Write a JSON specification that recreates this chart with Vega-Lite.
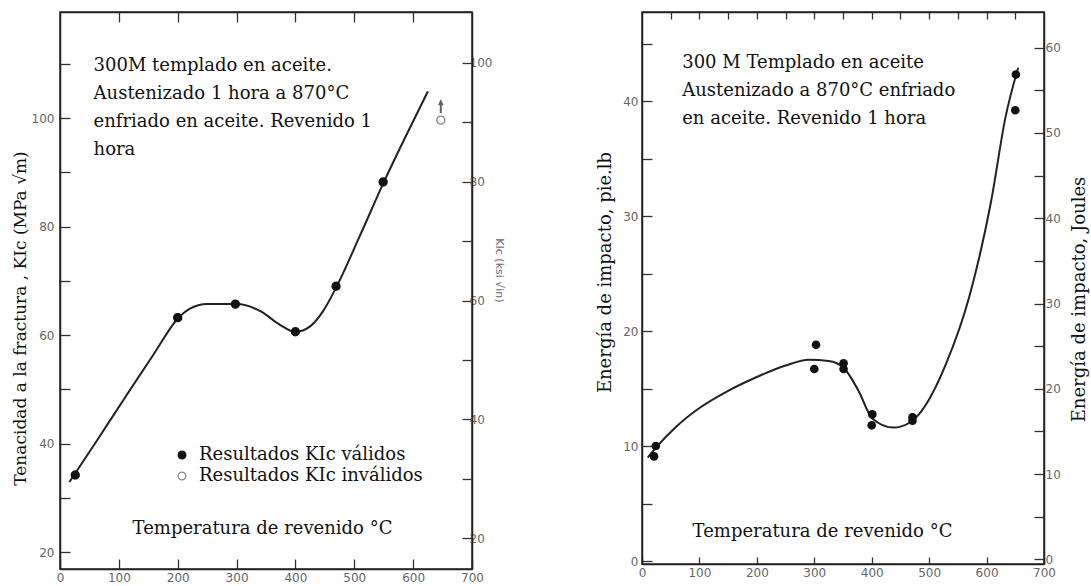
{
  "$schema": "https://vega.github.io/schema/vega-lite/v6.json",
  "background": "white",
  "padding": {"left": 10, "top": 10, "right": 0, "bottom": 0},
  "spacing": 170,
  "bounds": "flush",
  "config": {
    "view": {"stroke": "#222", "strokeWidth": 1.5},
    "axis": {
      "grid": false, "domainColor": "#222", "domainWidth": 1.5,
      "tickColor": "#333", "tickWidth": 1.3,
      "labelFont": "DejaVu Sans", "labelFontSize": 12, "labelColor": "#666",
      "titleFont": "DejaVu Serif", "titleFontSize": 18, "titleFontWeight": "normal", "titleColor": "#111",
      "labelFlush": false, "labelOverlap": false
    }
  },
  "datasets": {
    "kic_puntos": [
      {"temp": 26, "kic": 34.2, "resultado": "Resultados KIc válidos"},
      {"temp": 200, "kic": 63.2, "resultado": "Resultados KIc válidos"},
      {"temp": 298, "kic": 65.7, "resultado": "Resultados KIc válidos"},
      {"temp": 400, "kic": 60.6, "resultado": "Resultados KIc válidos"},
      {"temp": 469, "kic": 69.0, "resultado": "Resultados KIc válidos"},
      {"temp": 549, "kic": 88.2, "resultado": "Resultados KIc válidos"},
      {"temp": 647, "kic": 99.6, "resultado": "Resultados KIc inválidos"}
    ],
    "flecha": [{"temp": 647, "kic": 102.2}],
    "kic_curva": [
      {"temp": 16, "kic": 32.9}, {"temp": 60, "kic": 40.1}, {"temp": 110, "kic": 48.4},
      {"temp": 160, "kic": 56.6}, {"temp": 200, "kic": 63.0}, {"temp": 220, "kic": 64.8},
      {"temp": 250, "kic": 65.7}, {"temp": 300, "kic": 65.7}, {"temp": 342, "kic": 64.3},
      {"temp": 372, "kic": 62.0}, {"temp": 400, "kic": 60.6}, {"temp": 425, "kic": 61.6},
      {"temp": 447, "kic": 64.4}, {"temp": 468, "kic": 68.5}, {"temp": 510, "kic": 78.4},
      {"temp": 549, "kic": 87.9}, {"temp": 590, "kic": 97.2}, {"temp": 625, "kic": 104.9}
    ],
    "nota_izq": [{"temp": 57, "kic": 111.2, "texto": "300M templado en aceite.\nAustenizado 1 hora a 870°C\nenfriado en aceite. Revenido 1\nhora"}],
    "impacto_puntos": [
      {"temp": 24, "energia": 10.0}, {"temp": 21, "energia": 9.1},
      {"temp": 303, "energia": 18.8}, {"temp": 300, "energia": 16.7},
      {"temp": 351, "energia": 17.2}, {"temp": 351, "energia": 16.7},
      {"temp": 401, "energia": 12.75}, {"temp": 400, "energia": 11.8},
      {"temp": 471, "energia": 12.5}, {"temp": 471, "energia": 12.2},
      {"temp": 651, "energia": 42.3}, {"temp": 650, "energia": 39.2}
    ],
    "impacto_curva": [
      {"temp": 10, "energia": 9.0}, {"temp": 25, "energia": 9.9}, {"temp": 60, "energia": 11.7},
      {"temp": 100, "energia": 13.3}, {"temp": 150, "energia": 14.8}, {"temp": 200, "energia": 16.0},
      {"temp": 250, "energia": 17.0}, {"temp": 291, "energia": 17.5}, {"temp": 325, "energia": 17.4},
      {"temp": 351, "energia": 16.8}, {"temp": 377, "energia": 14.8}, {"temp": 401, "energia": 12.4},
      {"temp": 438, "energia": 11.6}, {"temp": 465, "energia": 12.0}, {"temp": 486, "energia": 13.0},
      {"temp": 529, "energia": 17.1}, {"temp": 570, "energia": 23.0}, {"temp": 608, "energia": 31.3},
      {"temp": 633, "energia": 38.6}, {"temp": 655, "energia": 42.9}
    ],
    "nota_der": [{"temp": 70, "energia": 44.1, "texto": "300 M Templado en aceite\nAustenizado a 870°C enfriado\nen aceite. Revenido 1 hora"}]
  },
  "hconcat": [
    {
      "width": 412, "height": 557,
      "layer": [
        {
          "layer": [
            {
              "data": {"name": "kic_curva"},
              "mark": {"type": "line", "interpolate": "monotone", "color": "#222", "strokeWidth": 2},
              "encoding": {
                "x": {"field": "temp", "type": "quantitative", "scale": {"domain": [0, 700], "nice": false, "zero": false},
                  "axis": {"orient": "bottom", "values": [0, 100, 200, 300, 400, 500, 600, 700], "tickSize": -10, "labelPadding": 13,
                    "title": "Temperatura de revenido °C", "titleX": 202, "titleY": -50}},
                "y": {"field": "kic", "type": "quantitative", "scale": {"domain": [16.87, 119.54], "nice": false, "zero": false},
                  "axis": {"orient": "left", "values": [20, 30, 40, 50, 60, 70, 80, 90, 100, 110], "labelExpr": "datum.value % 20 === 0 ? datum.label : ''",
                    "tickSize": -10, "labelPadding": 16, "title": "Tenacidad a la fractura , KIc (MPa √m)", "titleFontSize": 17, "titlePadding": 2, "titleY": 306}}
              }
            },
            {
              "data": {"name": "kic_puntos"},
              "mark": {"type": "point", "shape": "circle", "size": 65, "strokeWidth": 1.3, "opacity": 1},
              "encoding": {
                "x": {"field": "temp", "type": "quantitative", "scale": {"domain": [0, 700], "nice": false, "zero": false}},
                "y": {"field": "kic", "type": "quantitative", "scale": {"domain": [16.87, 119.54], "nice": false, "zero": false}},
                "fill": {"field": "resultado", "type": "nominal",
                  "scale": {"domain": ["Resultados KIc válidos", "Resultados KIc inválidos"], "range": ["#111", "#ffffff"]},
                  "legend": {"orient": "none", "legendX": 113, "legendY": 434, "title": null, "labelFont": "DejaVu Serif", "labelFontSize": 18, "labelColor": "#111", "labelLimit": 0, "symbolSize": 60, "labelOffset": 8, "rowPadding": 3, "symbolStrokeWidth": 1.2}},
                "stroke": {"field": "resultado", "type": "nominal",
                  "scale": {"domain": ["Resultados KIc válidos", "Resultados KIc inválidos"], "range": ["#111", "#888"]},
                  "legend": {"orient": "none", "legendX": 113, "legendY": 434, "title": null, "labelFont": "DejaVu Serif", "labelFontSize": 18, "labelColor": "#111", "labelLimit": 0, "symbolSize": 60, "labelOffset": 8, "rowPadding": 3, "symbolStrokeWidth": 1.2}}
              }
            },
            {
              "data": {"name": "flecha"},
              "mark": {"type": "point", "shape": "arrow", "size": 200, "filled": true, "color": "#222"},
              "encoding": {
                "x": {"field": "temp", "type": "quantitative", "scale": {"domain": [0, 700], "nice": false, "zero": false}},
                "y": {"field": "kic", "type": "quantitative", "scale": {"domain": [16.87, 119.54], "nice": false, "zero": false}}
              }
            },
            {
              "data": {"name": "nota_izq"},
              "mark": {"type": "text", "align": "left", "baseline": "top", "lineBreak": "\n", "lineHeight": 28, "font": "DejaVu Serif", "fontSize": 18, "color": "#111"},
              "encoding": {
                "x": {"field": "temp", "type": "quantitative", "scale": {"domain": [0, 700], "nice": false, "zero": false}},
                "y": {"field": "kic", "type": "quantitative", "scale": {"domain": [16.87, 119.54], "nice": false, "zero": false}},
                "text": {"field": "texto"}
              }
            }
          ]
        },
        {
          "data": {"name": "kic_curva"},
          "mark": {"type": "point", "opacity": 0},
          "encoding": {
            "x": {"field": "temp", "type": "quantitative", "scale": {"domain": [0, 700], "nice": false, "zero": false},
              "axis": {"orient": "top", "values": [100, 200, 300, 400, 500, 600], "labels": false, "tickSize": -10, "title": null}},
            "y": {"field": "kic", "type": "quantitative", "scale": {"domain": [14.84, 108.53], "nice": false, "zero": false},
              "axis": {"orient": "right", "values": [20, 30, 40, 50, 60, 70, 80, 90, 100], "labelExpr": "datum.value % 20 === 0 ? datum.label : ''",
                "tickSize": -10, "labelPadding": 7, "title": "KIc (ksi √in)", "titleFont": "DejaVu Sans", "titleFontSize": 11, "titleColor": "#666", "titleAngle": 90, "titlePadding": 2, "titleY": 258}}
          }
        }
      ],
      "resolve": {"scale": {"y": "independent"}, "axis": {"x": "independent", "y": "independent"}}
    },
    {
      "width": 402, "height": 552,
      "layer": [
        {
          "layer": [
            {
              "data": {"name": "impacto_curva"},
              "mark": {"type": "line", "interpolate": "monotone", "color": "#222", "strokeWidth": 2},
              "encoding": {
                "x": {"field": "temp", "type": "quantitative", "scale": {"domain": [0, 700], "nice": false, "zero": false},
                  "axis": {"orient": "bottom", "values": [0, 50, 100, 150, 200, 250, 300, 350, 400, 450, 500, 550, 600, 650, 700],
                    "labelExpr": "datum.value % 100 === 0 ? datum.label : ''", "tickSize": -7, "labelPadding": 10,
                    "title": "Temperatura de revenido °C", "titleX": 180, "titleY": -42}},
                "y": {"field": "energia", "type": "quantitative", "scale": {"domain": [-0.26, 47.74], "nice": false, "zero": false},
                  "axis": {"orient": "left", "values": [0, 5, 10, 15, 20, 25, 30, 35, 40, 45], "labelExpr": "datum.value % 10 === 0 ? datum.label : ''",
                    "tickSize": -10, "labelPadding": 14, "title": "Energía de impacto, pie.lb", "titlePadding": 8, "titleY": 260}}
              }
            },
            {
              "data": {"name": "impacto_puntos"},
              "mark": {"type": "circle", "size": 75, "color": "#111", "opacity": 1},
              "encoding": {
                "x": {"field": "temp", "type": "quantitative", "scale": {"domain": [0, 700], "nice": false, "zero": false}},
                "y": {"field": "energia", "type": "quantitative", "scale": {"domain": [-0.26, 47.74], "nice": false, "zero": false}}
              }
            },
            {
              "data": {"name": "nota_der"},
              "mark": {"type": "text", "align": "left", "baseline": "top", "lineBreak": "\n", "lineHeight": 28, "font": "DejaVu Serif", "fontSize": 18, "color": "#111"},
              "encoding": {
                "x": {"field": "temp", "type": "quantitative", "scale": {"domain": [0, 700], "nice": false, "zero": false}},
                "y": {"field": "energia", "type": "quantitative", "scale": {"domain": [-0.26, 47.74], "nice": false, "zero": false}},
                "text": {"field": "texto"}
              }
            }
          ]
        },
        {
          "data": {"name": "impacto_curva"},
          "mark": {"type": "point", "opacity": 0},
          "encoding": {
            "x": {"field": "temp", "type": "quantitative", "scale": {"domain": [0, 700], "nice": false, "zero": false},
              "axis": {"orient": "top", "values": [50, 100, 150, 200, 250, 300, 350, 400, 450, 500, 550, 600, 650], "labels": false, "tickSize": -7, "title": null}},
            "y": {"field": "energia", "type": "quantitative", "scale": {"domain": [-0.55, 64.19], "nice": false, "zero": false},
              "axis": {"orient": "right", "values": [0, 5, 10, 15, 20, 25, 30, 35, 40, 45, 50, 55, 60], "labelExpr": "datum.value % 10 === 0 ? datum.label : ''",
                "tickSize": -10, "labelPadding": 11, "title": "Energía de impacto, Joules", "titleAngle": -90, "titleBaseline": "top", "titlePadding": 10, "titleY": 287}}
          }
        }
      ],
      "resolve": {"scale": {"y": "independent"}, "axis": {"x": "independent", "y": "independent"}}
    }
  ]
}
